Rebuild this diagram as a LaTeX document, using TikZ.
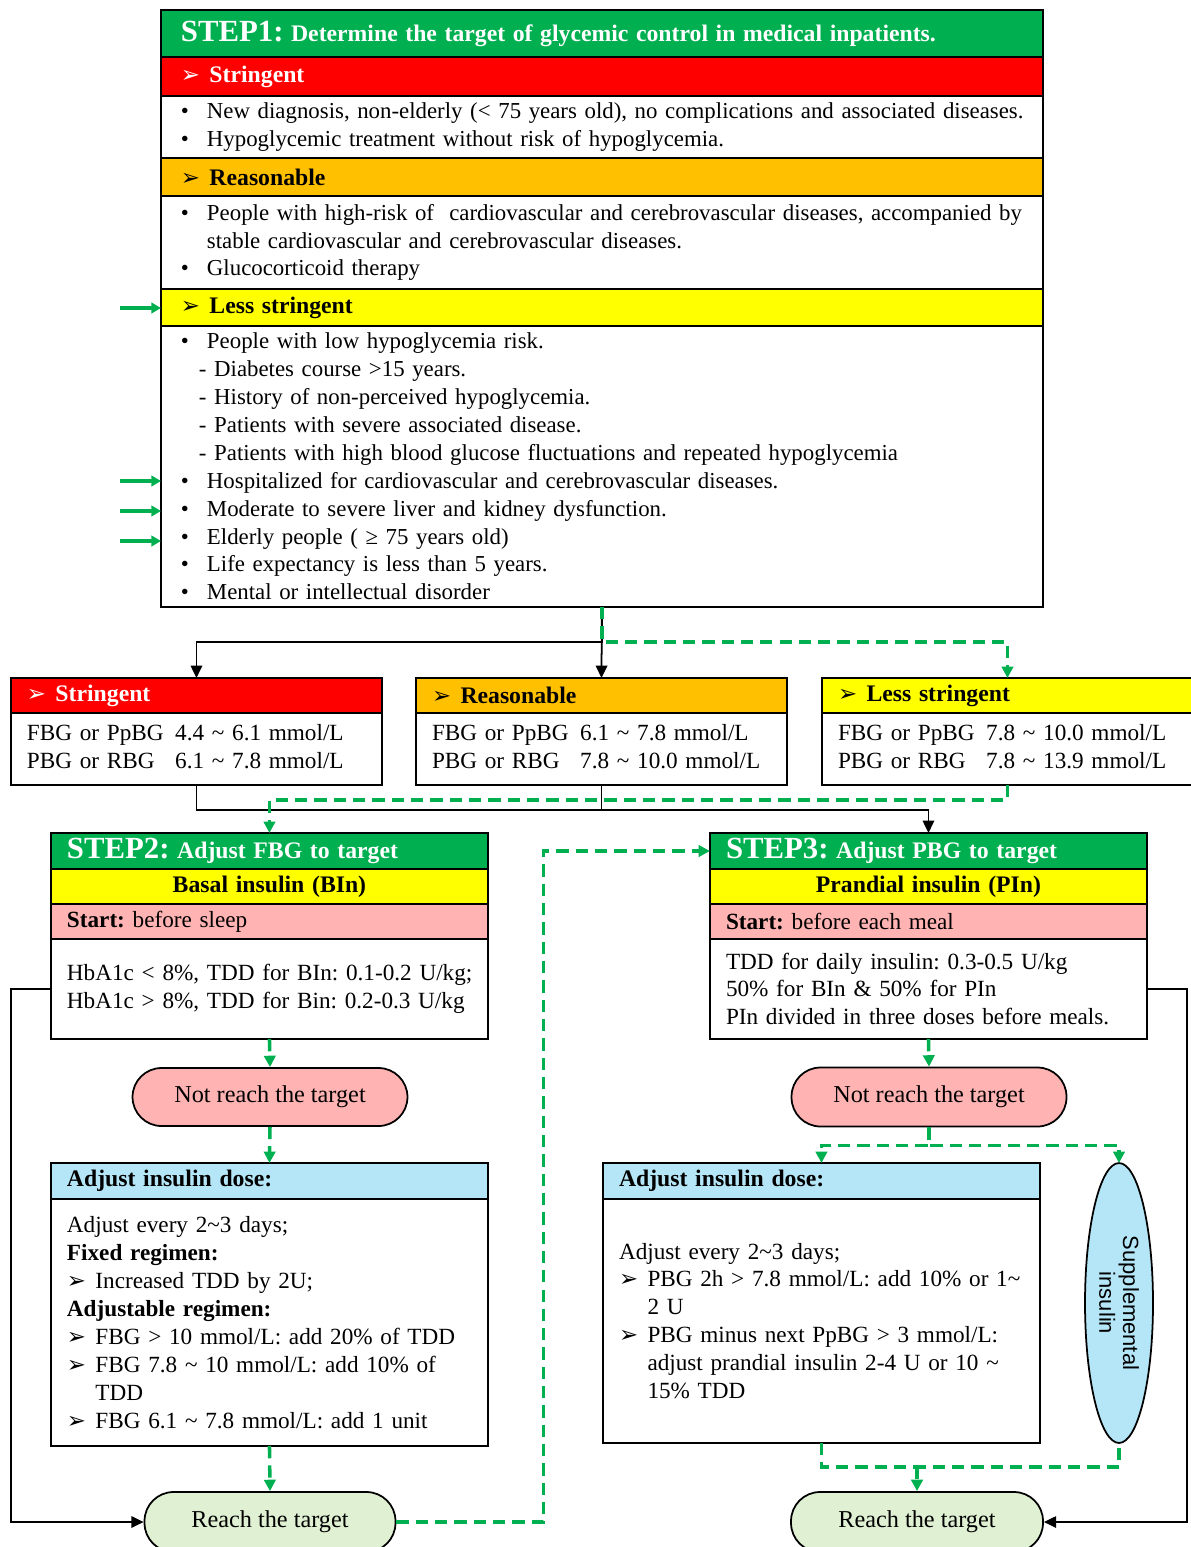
\documentclass[tikz,border=0pt]{standalone}
\usepackage{fontspec}
\setmainfont{Liberation Serif}
\setsansfont{Liberation Sans}
\newfontfamily\symfont{DejaVu Sans}
\usetikzlibrary{positioning,arrows.meta,shapes.geometric}
\frenchspacing

\definecolor{stepgreen}{HTML}{00B050}
\definecolor{hdred}{HTML}{FF0000}
\definecolor{hdorange}{HTML}{FFC000}
\definecolor{hdyellow}{HTML}{FFFF00}
\definecolor{startpink}{HTML}{FFB3B3}
\definecolor{dosblue}{HTML}{B4E6F7}
\definecolor{okgreen}{HTML}{E0F0D2}

\newcommand{\bodyfont}{\fontsize{13.2}{15.9}\selectfont}
\newcommand{\listfont}{\fontsize{13}{15.9}\selectfont}
\newcommand{\stepfont}{\fontsize{17.5}{17.5}\selectfont}
\newcommand{\hdtext}[1]{{\fontsize{13.5}{15}\selectfont\bfseries #1}}
\newcommand{\pointer}{{\symfont\fontsize{13}{13}\selectfont ➢}}
\newcommand{\arrowitem}[1]{\makebox[0.57cm][l]{\pointer}#1}
\newcommand{\bulitem}{\makebox[0.52cm][l]{\textbullet}}
\newcommand{\tld}{\textasciitilde}

\begin{document}
\begin{tikzpicture}[x=0.02cm, y=-0.02cm,
    node distance=0pt,
    box/.style={draw, line width=1pt, outer sep=0pt, inner xsep=0.32cm, inner ysep=0pt,
                align=left, text width=#1, font=\bodyfont},
    s1row/.style={box=16.84cm, inner xsep=0.4cm, font=\listfont},
    tgtrow/.style={box=6.78cm},
    steprow/.style={box=8.10cm},
    target/.style={draw, line width=1pt, rectangle, rounded corners=0.58cm,
                   font=\fontsize{13.8}{15}\selectfont},
    blk/.style={draw, line width=1pt, -{Triangle[length=7pt,width=6.5pt]}},
    gdash/.style={draw=stepgreen, line width=2pt, dash pattern=on 7pt off 4pt,
                  -{Triangle[length=6.5pt,width=6.5pt]}},
    flag/.style={draw=stepgreen, line width=2.4pt, -{Triangle[length=5.5pt,width=6pt]}}]
  \useasboundingbox (0,0) rectangle (1190,1547);

  % step 1
  \node[s1row, anchor=north west, fill=stepgreen, minimum height=0.94cm, text=white] (s1head) at (161,10)
    {\bfseries{\stepfont STEP1:} {\fontsize{13.5}{15}\selectfont Determine the target of glycemic control in medical inpatients.}};
  \node[s1row, below=of s1head, fill=hdred, minimum height=0.78cm, text=white] (s1str)
    {\arrowitem{\hdtext{Stringent}}};
  \node[s1row, below=of s1str, minimum height=1.24cm] (s1strb)
    {\mbox{\bulitem New diagnosis, non-elderly (< 75 years old), no complications and associated diseases.}\\
     \bulitem Hypoglycemic treatment without risk of hypoglycemia.};
  \node[s1row, below=of s1strb, fill=hdorange, minimum height=0.76cm] (s1rea)
    {\arrowitem{\hdtext{Reasonable}}};
  \node[s1row, below=of s1rea, minimum height=1.86cm] (s1reab)
    {\mbox{\bulitem People with high-risk of \ cardiovascular and cerebrovascular diseases, accompanied by}\\
     \hspace*{0.52cm}stable cardiovascular and cerebrovascular diseases.\\
     \bulitem Glucocorticoid therapy};
  \node[s1row, below=of s1reab, fill=hdyellow, minimum height=0.74cm] (s1less)
    {\arrowitem{\hdtext{Less stringent}}};
  \node[s1row, below=of s1less, minimum height=5.62cm] (s1body)
    {\bulitem People with low hypoglycemia risk.\\
     \hspace*{0.36cm}- Diabetes course >15 years.\\
     \hspace*{0.36cm}- History of non-perceived hypoglycemia.\\
     \hspace*{0.36cm}- Patients with severe associated disease.\\
     \hspace*{0.36cm}- Patients with high blood glucose fluctuations and repeated hypoglycemia\\
     \bulitem Hospitalized for cardiovascular and cerebrovascular diseases.\\
     \bulitem Moderate to severe liver and kidney dysfunction.\\
     \bulitem Elderly people ( ≥ 75 years old)\\
     \bulitem Life expectancy is less than 5 years.\\
     \bulitem Mental or intellectual disorder};

  \coordinate (f0) at (120,308);
  \draw[flag] (f0) -- (f0 -| s1less.west);
  \foreach \yy [count=\i] in {481,511,541} {
    \coordinate (f\i) at (120,\yy);
    \draw[flag] (f\i) -- (f\i -| s1body.west);
  }

  % targets
  \node[tgtrow, anchor=north west, fill=hdred, minimum height=0.70cm, text=white] (str) at (11,678)
    {\arrowitem{\hdtext{Stringent}}};
  \node[tgtrow, below=of str, minimum height=1.44cm] (strb)
    {\begin{tabular}{@{}l@{\hspace{0.5em}}l@{}}
     FBG or PpBG & 4.4 \tld{} 6.1 mmol/L\\
     PBG or RBG  & 6.1 \tld{} 7.8 mmol/L\end{tabular}};
  \node[tgtrow, anchor=north west, fill=hdorange, minimum height=0.70cm] (rea) at (416,678)
    {\arrowitem{\hdtext{Reasonable}}};
  \node[tgtrow, below=of rea, minimum height=1.44cm] (reab)
    {\begin{tabular}{@{}l@{\hspace{0.5em}}l@{}}
     FBG or PpBG & 6.1 \tld{} 7.8 mmol/L\\
     PBG or RBG  & 7.8 \tld{} 10.0 mmol/L\end{tabular}};
  \node[tgtrow, anchor=north west, fill=hdyellow, minimum height=0.70cm] (les) at (822,678)
    {\arrowitem{\hdtext{Less stringent}}};
  \node[tgtrow, below=of les, minimum height=1.44cm] (lesb)
    {\begin{tabular}{@{}l@{\hspace{0.5em}}l@{}}
     FBG or PpBG & 7.8 \tld{} 10.0 mmol/L\\
     PBG or RBG  & 7.8 \tld{} 13.9 mmol/L\end{tabular}};

  \draw[blk] (s1body.south) -- ++(0,35) -| (str.north);
  \draw[blk] (s1body.south) -- (rea.north);
  \draw[gdash] (s1body.south) -- ++(0,35) -| (les.north);

  % step 2
  \node[steprow, anchor=north west, fill=stepgreen, minimum height=0.72cm, text=white] (s2head) at (51,833)
    {\bfseries{\stepfont STEP2:} \hdtext{Adjust FBG to target}};
  \node[steprow, below=of s2head, fill=hdyellow, minimum height=0.70cm, align=center] (s2ins)
    {\hdtext{Basal insulin (BIn)}};
  \node[steprow, below=of s2ins, fill=startpink, minimum height=0.70cm] (s2start)
    {\textbf{Start:} before sleep};
  \node[steprow, below=of s2start, minimum height=2.00cm] (s2body)
    {\mbox{HbA1c < 8\%, TDD for BIn: 0.1-0.2 U/kg;}\\
     \mbox{HbA1c > 8\%, TDD for Bin: 0.2-0.3 U/kg}};
  \node[target, fill=startpink, minimum width=5.5cm, minimum height=1.16cm] (nr2) at (270,1097)
    {Not reach the target};
  \node[steprow, anchor=north west, fill=dosblue, minimum height=0.72cm] (ad2head) at (51,1163)
    {\hdtext{Adjust insulin dose:}};
  \node[steprow, below=of ad2head, minimum height=4.94cm] (ad2body)
    {Adjust every 2\tld3 days;\\
     \textbf{Fixed regimen:}\\
     \arrowitem{Increased TDD by 2U;}\\
     \textbf{Adjustable regimen:}\\
     \arrowitem{FBG > 10 mmol/L: add 20\% of TDD}\\
     \arrowitem{FBG 7.8 \tld{} 10 mmol/L: add 10\% of}\\
     \hspace*{0.57cm}TDD\\
     \arrowitem{FBG 6.1 \tld{} 7.8 mmol/L: add 1 unit}};
  \node[target, fill=okgreen, minimum width=5.02cm, minimum height=1.2cm] (ok2) at (270,1522)
    {Reach the target};

  % step 3
  \node[steprow, anchor=north west, fill=stepgreen, minimum height=0.72cm, text=white] (s3head) at (710,833)
    {\bfseries{\stepfont STEP3:} \hdtext{Adjust PBG to target}};
  \node[steprow, below=of s3head, fill=hdyellow, minimum height=0.70cm, align=center] (s3ins)
    {\hdtext{Prandial insulin (PIn)}};
  \node[steprow, below=of s3ins, fill=startpink, minimum height=0.70cm] (s3start)
    {\textbf{Start:} before each meal};
  \node[steprow, below=of s3start, minimum height=2.00cm] (s3body)
    {TDD for daily insulin: 0.3-0.5 U/kg\\
     50\% for BIn \& 50\% for PIn\\
     \mbox{PIn divided in three doses before meals.}};
  \node[target, fill=startpink, minimum width=5.5cm, minimum height=1.18cm] (nr3) at (929,1097)
    {Not reach the target};
  \node[steprow, anchor=north west, fill=dosblue, minimum height=0.72cm] (ad3head) at (603,1163)
    {\hdtext{Adjust insulin dose:}};
  \node[steprow, below=of ad3head, minimum height=4.88cm] (ad3body)
    {Adjust every 2\tld3 days;\\
     \arrowitem{\mbox{PBG 2h > 7.8 mmol/L: add 10\% or 1\tld}}\\
     \hspace*{0.57cm}2 U\\
     \arrowitem{PBG minus next PpBG > 3 mmol/L:}\\
     \hspace*{0.57cm}adjust prandial insulin 2-4 U or 10 \tld\\
     \hspace*{0.57cm}15\% TDD};
  \node[ellipse, draw, line width=1pt, fill=dosblue, inner sep=0pt, outer sep=0pt,
        minimum width=1.36cm, minimum height=5.6cm] (supp) at (1119,1303) {};
  \node[rotate=-90, align=center, font=\sffamily\fontsize{12.5}{13.5}\selectfont] at (supp) {Supplemental\\insulin};
  \node[target, fill=okgreen, minimum width=5.04cm, minimum height=1.2cm] (ok3) at (917,1522)
    {Reach the target};

  % connectors
  \draw[blk] (strb.south) -- ++(0,25) -| (s3head.north);
  \draw[line width=1pt] (reab.south) -- ++(0,25);
  \draw[gdash] (lesb.south) -- ++(0,15) -| (s2head.north);

  \draw[gdash] (s2body.south) -- (nr2.north);
  \draw[gdash] (nr2.south) -- (ad2head.north);
  \draw[gdash] (ad2body.south) -- (ok2.north);
  \draw[blk] (s2body.west) -- ++(-40,0) |- (ok2.west);
  \draw[gdash] (ok2.east) -- ++(147,0) |- (s3head.west);

  \draw[gdash] (s3body.south) -- (nr3.north);
  \draw[gdash] (nr3.south) -- ++(0,18) -| (ad3head.north);
  \draw[gdash] (nr3.south) -- ++(0,18) -| (supp.north);
  \draw[gdash, -] (ad3body.south) -- ++(0,24) coordinate (j3) -| (supp.south);
  \draw[gdash] (ok3.north |- j3) -- (ok3.north);
  \draw[blk] (s3body.east) -- ++(40,0) |- (ok3.east);
\end{tikzpicture}
\end{document}
